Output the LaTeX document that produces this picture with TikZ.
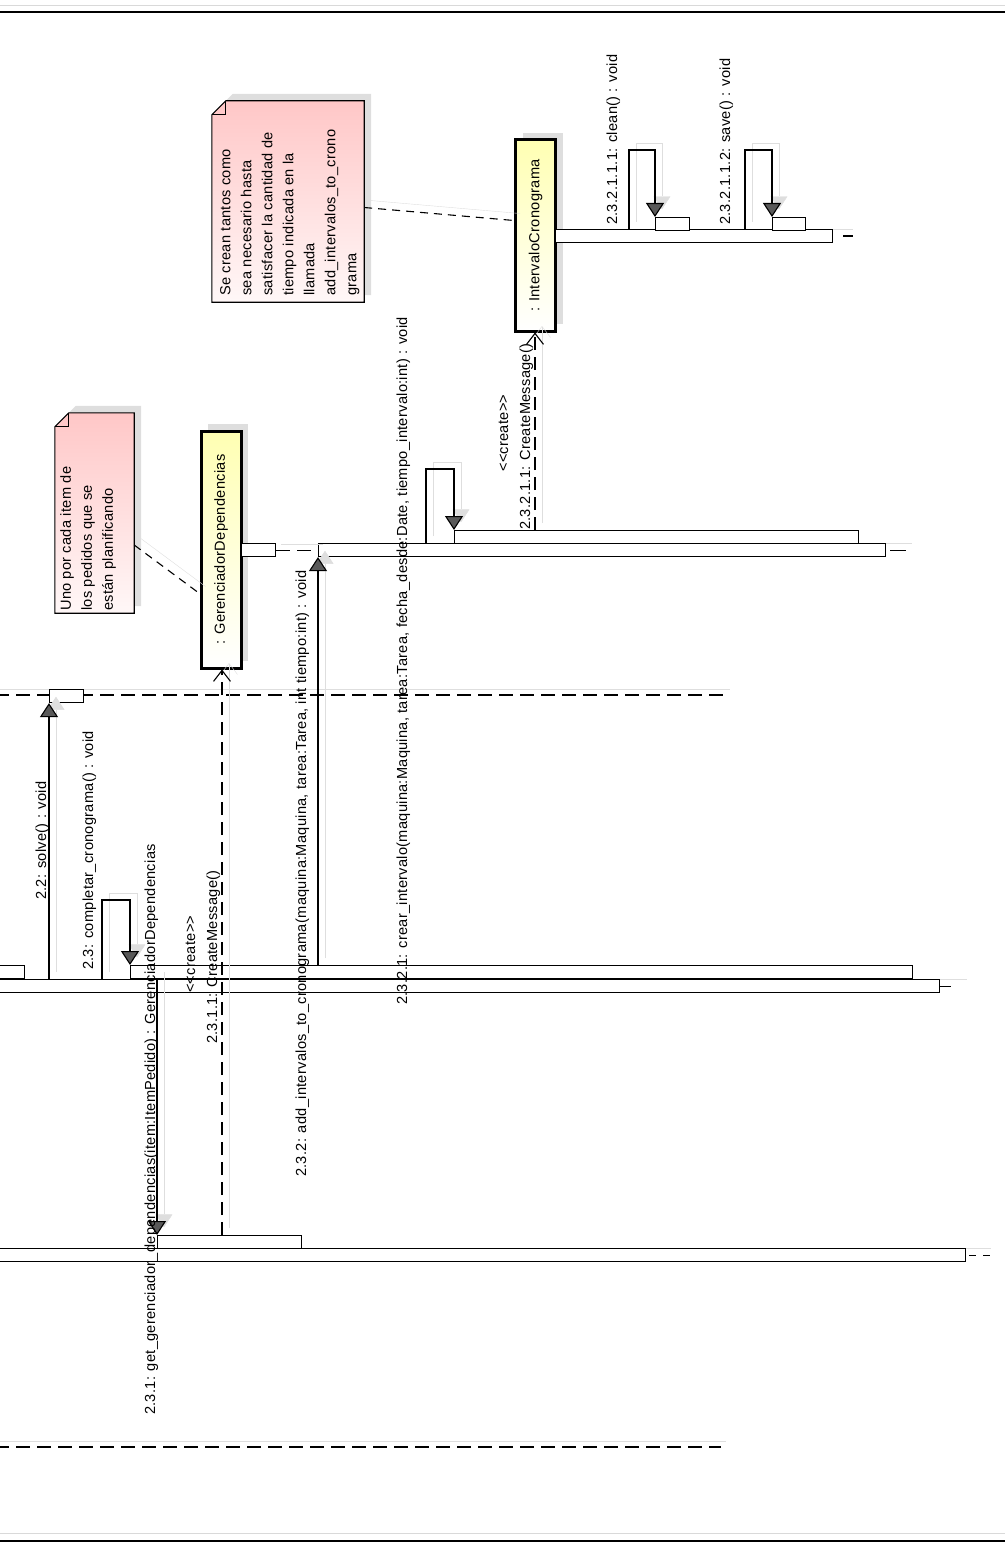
\documentclass[tikz,border=0pt]{standalone}
\usepackage{fontspec}
\setmainfont{Liberation Sans}[LetterSpace=2.0]
\usetikzlibrary{arrows.meta,positioning,shadows}

\newcommand{\letra}{\fontsize{14.6pt}{21pt}\selectfont}
% nota con esquina doblada y sombra
\newcommand{\formanota}[1]{%
  \fill[black!13,transform canvas={shift={(7pt,7pt)}}]
    ([yshift=-14pt]#1.north west) -- ([xshift=14pt]#1.north west) -- (#1.north east)
    -- (#1.south east) -- (#1.south west) -- cycle;
  \draw[notaborde,top color=red!22,bottom color=red!3]
    ([yshift=-14pt]#1.north west) -- ([xshift=14pt]#1.north west) -- (#1.north east)
    -- (#1.south east) -- (#1.south west) -- cycle;
  \draw[notaborde] ([yshift=-14pt]#1.north west) -| ([xshift=14pt]#1.north west);
}

\begin{document}
\begin{tikzpicture}[
  x=1pt, y=-1pt,
  objeto/.style={draw,line width=3pt,top color=yellow!30,bottom color=white,
                 minimum width=40pt,inner sep=0pt,font=\letra,
                 drop shadow={shadow xshift=7pt,shadow yshift=7pt,fill=black!13,opacity=1}},
  nota/.style={inner sep=0pt},
  notaborde/.style={draw,line width=1.1pt},
  notatexto/.style={rotate=90,anchor=north west,align=left,inner sep=0pt,font=\letra},
  barra/.style={draw,line width=1.1pt,fill=white,minimum height=13pt,inner sep=0pt,
                anchor=north west},
  msg/.style={line width=1.1pt,-{Triangle[length=14pt,width=18pt,fill=black!65]},
              preaction={draw=black!13,-{Triangle[length=14pt,width=18pt,fill=black!13]},
                         transform canvas={shift={(7pt,7pt)}}}},
  crear/.style={line width=1.1pt,dash pattern=on 13pt off 7pt,
                -{Straight Barb[length=11pt,width=17pt]},
                preaction={draw=black!13,solid,-{Straight Barb[length=11pt,width=17pt]},
                           transform canvas={shift={(7pt,7pt)}}}},
  vida/.style={line width=1.1pt,dash pattern=on 14pt off 7pt,
               preaction={draw=black!13,solid,transform canvas={shift={(5pt,6pt)}}}},
  enlace/.style={line width=1.1pt,dash pattern=on 8pt off 6pt,
                 preaction={draw=black!13,solid,transform canvas={shift={(6pt,7pt)}}}},
  etiqueta/.style={rotate=90,anchor=base west,inner sep=0pt,font=\letra}
]
\useasboundingbox (0,0) rectangle (1005,1554);
% marco
\draw[black!15] (0,5) -- (1005,5);
\draw[line width=1.5pt] (0,12) -- (1005,12);
\draw[black!15] (0,1533) -- (1005,1533);
\draw[line width=1.5pt] (0,1541) -- (1005,1541);

% lineas de vida
\coordinate (vidaB0) at (-5,695);
\coordinate (vidaB1) at (725,695);
\draw[vida] (vidaB0) -- (vidaB1);
\coordinate (vidaC0) at (-5,1447);
\coordinate (vidaC1) at (721,1447);
\draw[vida] (vidaC0) -- (vidaC1);

% activaciones
\node[barra,minimum width=944pt] (barA) at (-5,979) {};
\node[barra,minimum width=782pt] (barA2) at (130,965) {};
\node[barra,minimum width=29pt] (barA0) at (-5,965) {};
\node[barra,minimum width=34pt] (solveact) at (49,689) {};
\node[barra,minimum width=970pt] (barC) at (-5,1248) {};
\node[barra,minimum width=144pt] (getact) at (157,1235) {};

% objetos
\node[objeto,minimum height=237pt] (gerente) at (221,549.5)
  {\rotatebox{90}{: GerenciadorDependencias}};
\node[objeto,minimum height=191pt] (intervalo) at (535.5,235.5)
  {\rotatebox{90}{: IntervaloCronograma}};

\node[barra,minimum width=34pt] (gerenteact0) at (241,543) {};
\node[barra,minimum width=567pt] (gerenteact) at (318,543) {};
\node[barra,minimum width=404pt] (crearact) at (454,530) {};
\node[barra,minimum width=277pt] (intervaloact) at (555,229) {};
\node[barra,minimum width=34pt] (cleanact) at (655,217) {};
\node[barra,minimum width=33pt] (saveact) at (772,217) {};
\draw[vida] (gerenteact0.east) -- (gerenteact.west);

% fin de las lineas de vida
\draw[black!13] (barA.north east) -- ++(27,0);
\draw[line width=1.1pt] (barA.east) -- ++(11,0);
\draw[black!13] (gerenteact.north east) -- ++(26,0);
\draw[line width=1.1pt] ([xshift=4pt]gerenteact.east) -- ++(16,0);
\draw[black!13] (intervaloact.north east) -- ++(20,0);
\draw[line width=1.1pt] ([xshift=10pt]intervaloact.east) -- ++(10,0);
\draw[black!13] (barC.north east) -- ++(25,0);
\draw[line width=1.1pt] ([xshift=3pt]barC.east) -- ++(7,0);
\draw[line width=1.1pt] ([xshift=17pt]barC.east) -- ++(7,0);

% mensajes
\coordinate (c22) at (49,979);
\draw[msg] (c22) -- (solveact.south west);
\coordinate (c23) at (102,979);
\draw[msg] (c23) -- ++(0,-79) -| (barA2.north west);
\coordinate (c231) at (157,979);
\draw[msg] (c231) -- (getact.north west);
\coordinate (c2311) at (222,1235);
\draw[crear] (c2311) -- (c2311 |- gerente.south);
\coordinate (c232) at (318,965);
\draw[msg] (c232) -- (gerenteact.south west);
\coordinate (c2321) at (426,543);
\draw[msg] (c2321) -- ++(0,-74) -| (crearact.north west);
\coordinate (c23211) at (535,530);
\draw[crear] (c23211) -- (c23211 |- intervalo.south);
\coordinate (cclean) at (629,229);
\draw[msg] (cclean) -- ++(0,-79) -| (cleanact.north west);
\coordinate (csave) at (745,229);
\draw[msg] (csave) -- ++(0,-79) -| (saveact.north west);

% etiquetas
\node[etiqueta] (l22) at (46,900) {2.2: solve() : void};
\node[etiqueta] (l23) at (93,970) {2.3: completar\_cronograma() : void};
\node[etiqueta] (l231) at (155,1415)
  {2.3.1: get\_gerenciador\_dependencias(item:ItemPedido) : GerenciadorDependencias};
\node[etiqueta] (lcrear1) at (195,993) {{<}{<}create{>}{>}};
\node[etiqueta] (l2311) at (217,1044) {2.3.1.1: CreateMessage()};
\node[etiqueta] (l232) at (306,1177)
  {2.3.2: add\_intervalos\_to\_cronograma(maquina:Maquina, tarea:Tarea, int tiempo:int) : void};
\node[etiqueta] (l2321) at (407,1005)
  {2.3.2.1: crear\_intervalo(maquina:Maquina, tarea:Tarea, fecha\_desde:Date, tiempo\_intervalo:int) : void};
\node[etiqueta] (lcrear2) at (508,472) {{<}{<}create{>}{>}};
\node[etiqueta] (l23211) at (530,530) {2.3.2.1.1: CreateMessage()};
\node[etiqueta] (lclean) at (617,225) {2.3.2.1.1.1: clean() : void};
\node[etiqueta] (lsave) at (730,225) {2.3.2.1.1.2: save() : void};

% notas
\node[nota,minimum width=79pt,minimum height=200pt] (nota1) at (94.5,513) {};
\formanota{nota1}
\node[notatexto] (nota1txt) at (60,611)
  {Uno por cada item de\\los pedidos que se\\están planificando};
\draw[enlace] ([yshift=-32pt]nota1.east) -- ([yshift=-44pt]gerente.west);

\node[nota,minimum width=152pt,minimum height=201pt] (nota2) at (288,201.5) {};
\formanota{nota2}
\node[notatexto] (nota2txt) at (220,296)
  {Se crean tantos como\\sea necesario hasta\\satisfacer la cantidad de\\tiempo indicada en la\\llamada\\add\_intervalos\_to\_crono\\grama};
\draw[enlace] ([yshift=-6pt]nota2.east) -- ([yshift=15pt]intervalo.west);
\end{tikzpicture}
\end{document}
